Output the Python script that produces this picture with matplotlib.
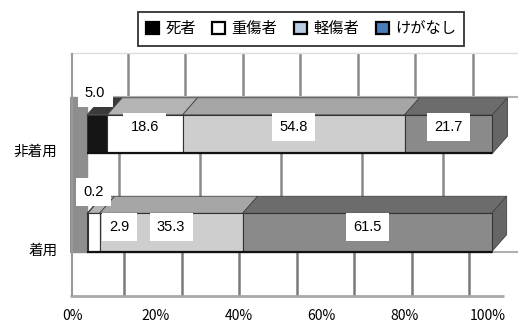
import matplotlib
matplotlib.use('Agg')
import matplotlib.pyplot as plt
import numpy as np
from matplotlib.patches import Patch, Polygon, Rectangle

plt.rcParams['font.family'] = ['Noto Sans CJK JP', 'DejaVu Sans']
plt.rcParams['font.size'] = 10

categories = ['非着用', '着用']
series_names = ['死者', '重傷者', '軽傷者', 'けがなし']
deaths = [5.0, 0.2]
serious = [18.6, 2.9]
minor = [54.8, 35.3]
no_injury = [21.7, 61.5]
tick_values = [0, 20, 40, 60, 80, 100]

series = [deaths, serious, minor, no_injury]
front_colors = ['#151515', '#ffffff', '#cecece', '#8a8a8a']
top_colors = ['#3a3a3a', '#b4b4b4', '#a6a6a6', '#6c6c6c']
legend_colors = ['#000000', '#ffffff', '#b9cde5', '#4a7dbb']

# label nudges for the thin segments (x in %, y in category units)
label_dx = [[-0.5, 0, 0, 0], [1.4, 6.3, 0, 0]]
label_dy = [[0.42, 0.07, 0.07, 0.07], [0.41, 0.056, 0.056, 0.056]]

fig = plt.figure(figsize=(5.18, 3.25), dpi=100)
ax = fig.add_axes([70 / 518, 27 / 325, 448 / 518, 247 / 325])
ax.set_xlim(-4.2, 106.4)
ax.set_ylim(-0.665, 1.843)

y_pos = [1, 0]
h = 0.39
dx, dy = 3.7, 0.173

# background: walls, floor, grid lines
ax.add_patch(Rectangle((-4.2, -0.198), 4.2, 1.574, color='#8e8e8e', zorder=1))
grid_top = 10 + 14.2 * np.arange(7)
grid_mid = 8 + 20 * np.arange(5)
ax.vlines(grid_top, 1.376, 1.82, color='#8a8a8a', lw=1.8, zorder=1)
ax.vlines(grid_top - 0.8, -0.64, -0.198, color='#7a7a7a', lw=1.8, zorder=1)
ax.vlines(grid_mid, 0.2, 0.82, color='#8a8a8a', lw=1.8, zorder=1)
ax.hlines([1.376, -0.198], 0, 106.4, color='#b0b0b0', lw=1.5, zorder=1)
ax.hlines(-0.64, -4.2, 103, color='#a8a8a8', lw=2, zorder=1)
ax.hlines(1.82, -4.2, 106.4, color='#dddddd', lw=1, zorder=1)
ax.vlines(-3.7, -0.64, 1.82, color='#9a9a9a', lw=1.5, zorder=1)

for row, y in enumerate(y_pos):
    left = 0
    for i, vals in enumerate(series):
        w = vals[row]
        ax.barh(y, w, left=left, height=h, color=front_colors[i],
                edgecolor='#333333', linewidth=0.8, zorder=3)
        top = [(left, y + h / 2), (left + w, y + h / 2),
               (left + w + dx, y + h / 2 + dy), (left + dx, y + h / 2 + dy)]
        ax.add_patch(Polygon(top, closed=True, facecolor=top_colors[i],
                             edgecolor='#444444', linewidth=0.6, zorder=2))
        ax.text(left + w / 2 + label_dx[row][i], y + label_dy[row][i], f'{w:.1f}',
                ha='center', va='center', fontsize=10.5, zorder=5,
                family=['Liberation Sans', 'DejaVu Sans'],
                bbox=dict(boxstyle='square,pad=0.5', fc='white', ec='none'))
        left += w
    side = [(left, y - h / 2), (left, y + h / 2),
            (left + dx, y + h / 2 + dy), (left + dx, y - h / 2 + dy)]
    ax.add_patch(Polygon(side, closed=True, facecolor='#666666',
                         edgecolor='#444444', linewidth=0.6, zorder=2))
    ax.hlines(y - h / 2, 0, left, color='#111111', lw=1.6, zorder=4)

for s in ax.spines.values():
    s.set_visible(False)
ax.set_xticks([])
ax.set_yticks([y - 0.17 for y in y_pos])
ax.set_yticklabels(categories, fontsize=10.5)
ax.tick_params(axis='y', length=0, pad=9)

sec = ax.secondary_xaxis('bottom', functions=(lambda x: (15 + 4.05 * x) / 4.16,
                                              lambda t: (4.16 * t - 15) / 4.05))
sec.set_xticks(tick_values)
sec.set_xticklabels([f'{t}%' for t in tick_values], fontsize=10)
sec.tick_params(length=0, pad=8)
sec.spines['bottom'].set_visible(False)

handles = [Patch(facecolor=c, edgecolor='black', linewidth=1.6) for c in legend_colors]
leg = fig.legend(handles, series_names, loc='center', bbox_to_anchor=(0.581, 0.912),
                 ncol=4, frameon=True, fancybox=False, edgecolor='black',
                 handlelength=0.85, handleheight=0.85, handletextpad=0.4,
                 columnspacing=1.1, borderpad=0.55, fontsize=11)
leg.get_frame().set_linewidth(1.3)

fig.savefig('out.png', dpi=100)
